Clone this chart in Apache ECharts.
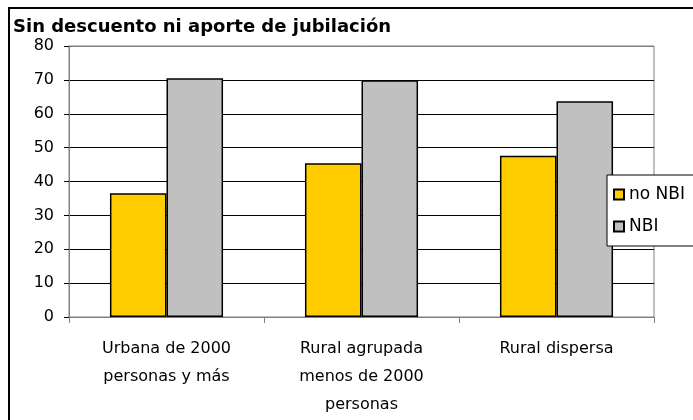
<!DOCTYPE html>
<html>
<head>
<meta charset="utf-8">
<script src="https://cdn.jsdelivr.net/npm/echarts@6/dist/echarts.min.js"></script>
<style>
html,body{margin:0;padding:0;background:#fff;}
#chart{width:693px;height:420px;}
</style>
</head>
<body>
<div id="chart"></div>
<script>
var titleText = 'Sin descuento ni aporte de jubilación';
var categories = ['Urbana de 2000\npersonas y más', 'Rural agrupada\nmenos de 2000\npersonas', 'Rural dispersa'];
var seriesNames = ['no NBI', 'NBI'];
var noNBI = [36.5, 45.4, 47.6];
var nbi = [70.5, 69.9, 63.7];
var yTicks = [0, 10, 20, 30, 40, 50, 60, 70, 80];

var FONT = 'DejaVu Sans';
var chart = echarts.init(document.getElementById('chart'), null, {renderer: 'canvas'});
var splitColors = yTicks.map(function (v, i) { return i === yTicks.length - 1 ? '#808080' : '#000000'; });

chart.setOption({
  animation: false,
  backgroundColor: '#ffffff',
  title: {
    text: titleText,
    left: 13,
    top: 18,
    padding: 0,
    textStyle: {fontFamily: FONT, fontWeight: 'bold', fontSize: 18, color: '#000'}
  },
  graphic: [{
    type: 'rect',
    shape: {x: 9, y: 8, width: 720, height: 450},
    style: {fill: null, stroke: '#000', lineWidth: 2},
    silent: true,
    z: 0
  }],
  legend: {
    orient: 'vertical',
    left: 607,
    top: 175,
    padding: [11, 30, 11, 6],
    itemGap: 15,
    itemWidth: 10,
    itemHeight: 10,
    icon: 'rect',
    backgroundColor: '#ffffff',
    borderColor: '#000000',
    borderWidth: 1,
    textStyle: {fontFamily: FONT, fontSize: 17, color: '#000'},
    data: seriesNames,
    z: 10
  },
  grid: {
    left: 69,
    right: 39,
    top: 46,
    bottom: 103,
    show: true,
    borderColor: '#808080',
    borderWidth: 1,
    containLabel: false
  },
  xAxis: {
    type: 'category',
    data: categories,
    axisLine: {show: true, lineStyle: {color: '#808080', width: 1}},
    axisTick: {show: true, length: 6, alignWithLabel: false, lineStyle: {color: '#808080'}},
    axisLabel: {fontFamily: FONT, fontSize: 16, color: '#000', margin: 18, lineHeight: 28, interval: 0}
  },
  yAxis: {
    type: 'value',
    min: 0,
    max: 80,
    interval: 10,
    axisLine: {show: true, lineStyle: {color: '#808080', width: 1}},
    axisTick: {show: true, length: 5, lineStyle: {color: '#000'}},
    axisLabel: {fontFamily: FONT, fontSize: 16, color: '#000', margin: 15},
    splitLine: {show: true, lineStyle: {color: splitColors, width: 1}}
  },
  series: [
    {
      name: seriesNames[0],
      type: 'bar',
      data: noNBI,
      barGap: '0%',
      barCategoryGap: '42%',
      itemStyle: {color: '#FFCC00', borderColor: '#000', borderWidth: 1.5}
    },
    {
      name: seriesNames[1],
      type: 'bar',
      data: nbi,
      barGap: '0%',
      barCategoryGap: '42%',
      itemStyle: {color: '#C0C0C0', borderColor: '#000', borderWidth: 1.5}
    }
  ]
});
</script>
</body>
</html>
